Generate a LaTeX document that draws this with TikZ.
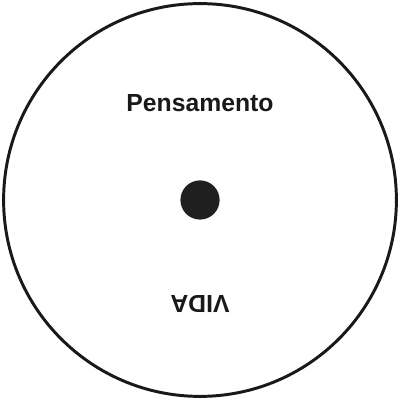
\documentclass[tikz,border=0pt]{standalone}
\usepackage{fontspec}
\setmainfont{Liberation Sans}
\usepackage{tikz}
\usetikzlibrary{positioning}

\begin{document}
\begin{tikzpicture}[
            word/.style={font=\fontsize{17.6}{20}\selectfont\bfseries, text=black!90, anchor=base, inner sep=0pt},
            disc/.style={circle, fill=black!88, minimum size=0.98cm, inner sep=0pt}
        ]
        \useasboundingbox (0, 0) rectangle (10, 10);
        \node[circle, draw=black!90, line width=2.1pt, minimum size=9.82cm, inner sep=0pt] (ring) at (5, 5) {};
        \node[disc] (dot) at (5, 5) {};
        \node[word] (thought) at (5, 7.2) {Pensamento};
        % upside down
        \node[word, rotate=180] (life) at (5, 2.62) {VIDA};
        \end{tikzpicture}
\end{document}
